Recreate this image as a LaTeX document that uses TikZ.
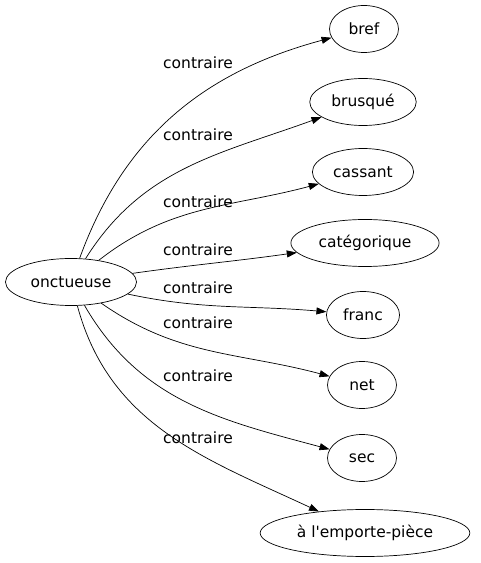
\documentclass[tikz,border=0pt]{standalone}
\usepackage{fontspec}
\setmainfont{DejaVu Sans}
\usetikzlibrary{arrows.meta,shapes.geometric}

\begin{document}
\begin{tikzpicture}[x=1pt,y=1pt,>={Triangle[length=10pt,width=7pt]},line width=.7pt,
  word/.style={draw,ellipse,minimum height=47pt,minimum width=69pt,inner xsep=6pt,font=\fontsize{15.5}{17}\selectfont},
  rel/.style={font=\fontsize{15.5}{17}\selectfont}]
\useasboundingbox (0,0) rectangle (481,563);
% nodes
\node[word] (onct) at (71,281){onctueuse};
\node[word] (bref) at (364,534){bref};\node[word] (brus) at (363,461){brusqué};
\node[word] (cass) at (363,391){cassant};\node[word] (cate) at (365,320){catégorique};
\node[word] (franc) at (363,248){franc};\node[word] (net) at (362,178){net};
\node[word] (sec) at (362,105){sec};\node[word] (empo) at (365,30){à l\textquotesingle emporte-pièce};
% edges
\draw[->] (onct) to[out=70,in=195] (bref);\node[rel] at (198,500){contraire};
\draw[->] (onct) to[out=58,in=200] (brus);\node[rel] at (198,428){contraire};
\draw[->] (onct) to[out=38,in=195] (cass);\node[rel] at (198,361){contraire};
\draw[->] (onct) to[out=8,in=188] (cate);\node[rel] at (198,313){contraire};
\draw[->] (onct) to[out=-12,in=175] (franc);\node[rel] at (198,275){contraire};
\draw[->] (onct) to[out=-35,in=165] (net);\node[rel] at (198,240){contraire};
\draw[->] (onct) to[out=-60,in=165] (sec);\node[rel] at (198,187){contraire};
\draw[->] (onct) to[out=-75,in=155] (empo);\node[rel] at (198,125){contraire};
\end{tikzpicture}
\end{document}
